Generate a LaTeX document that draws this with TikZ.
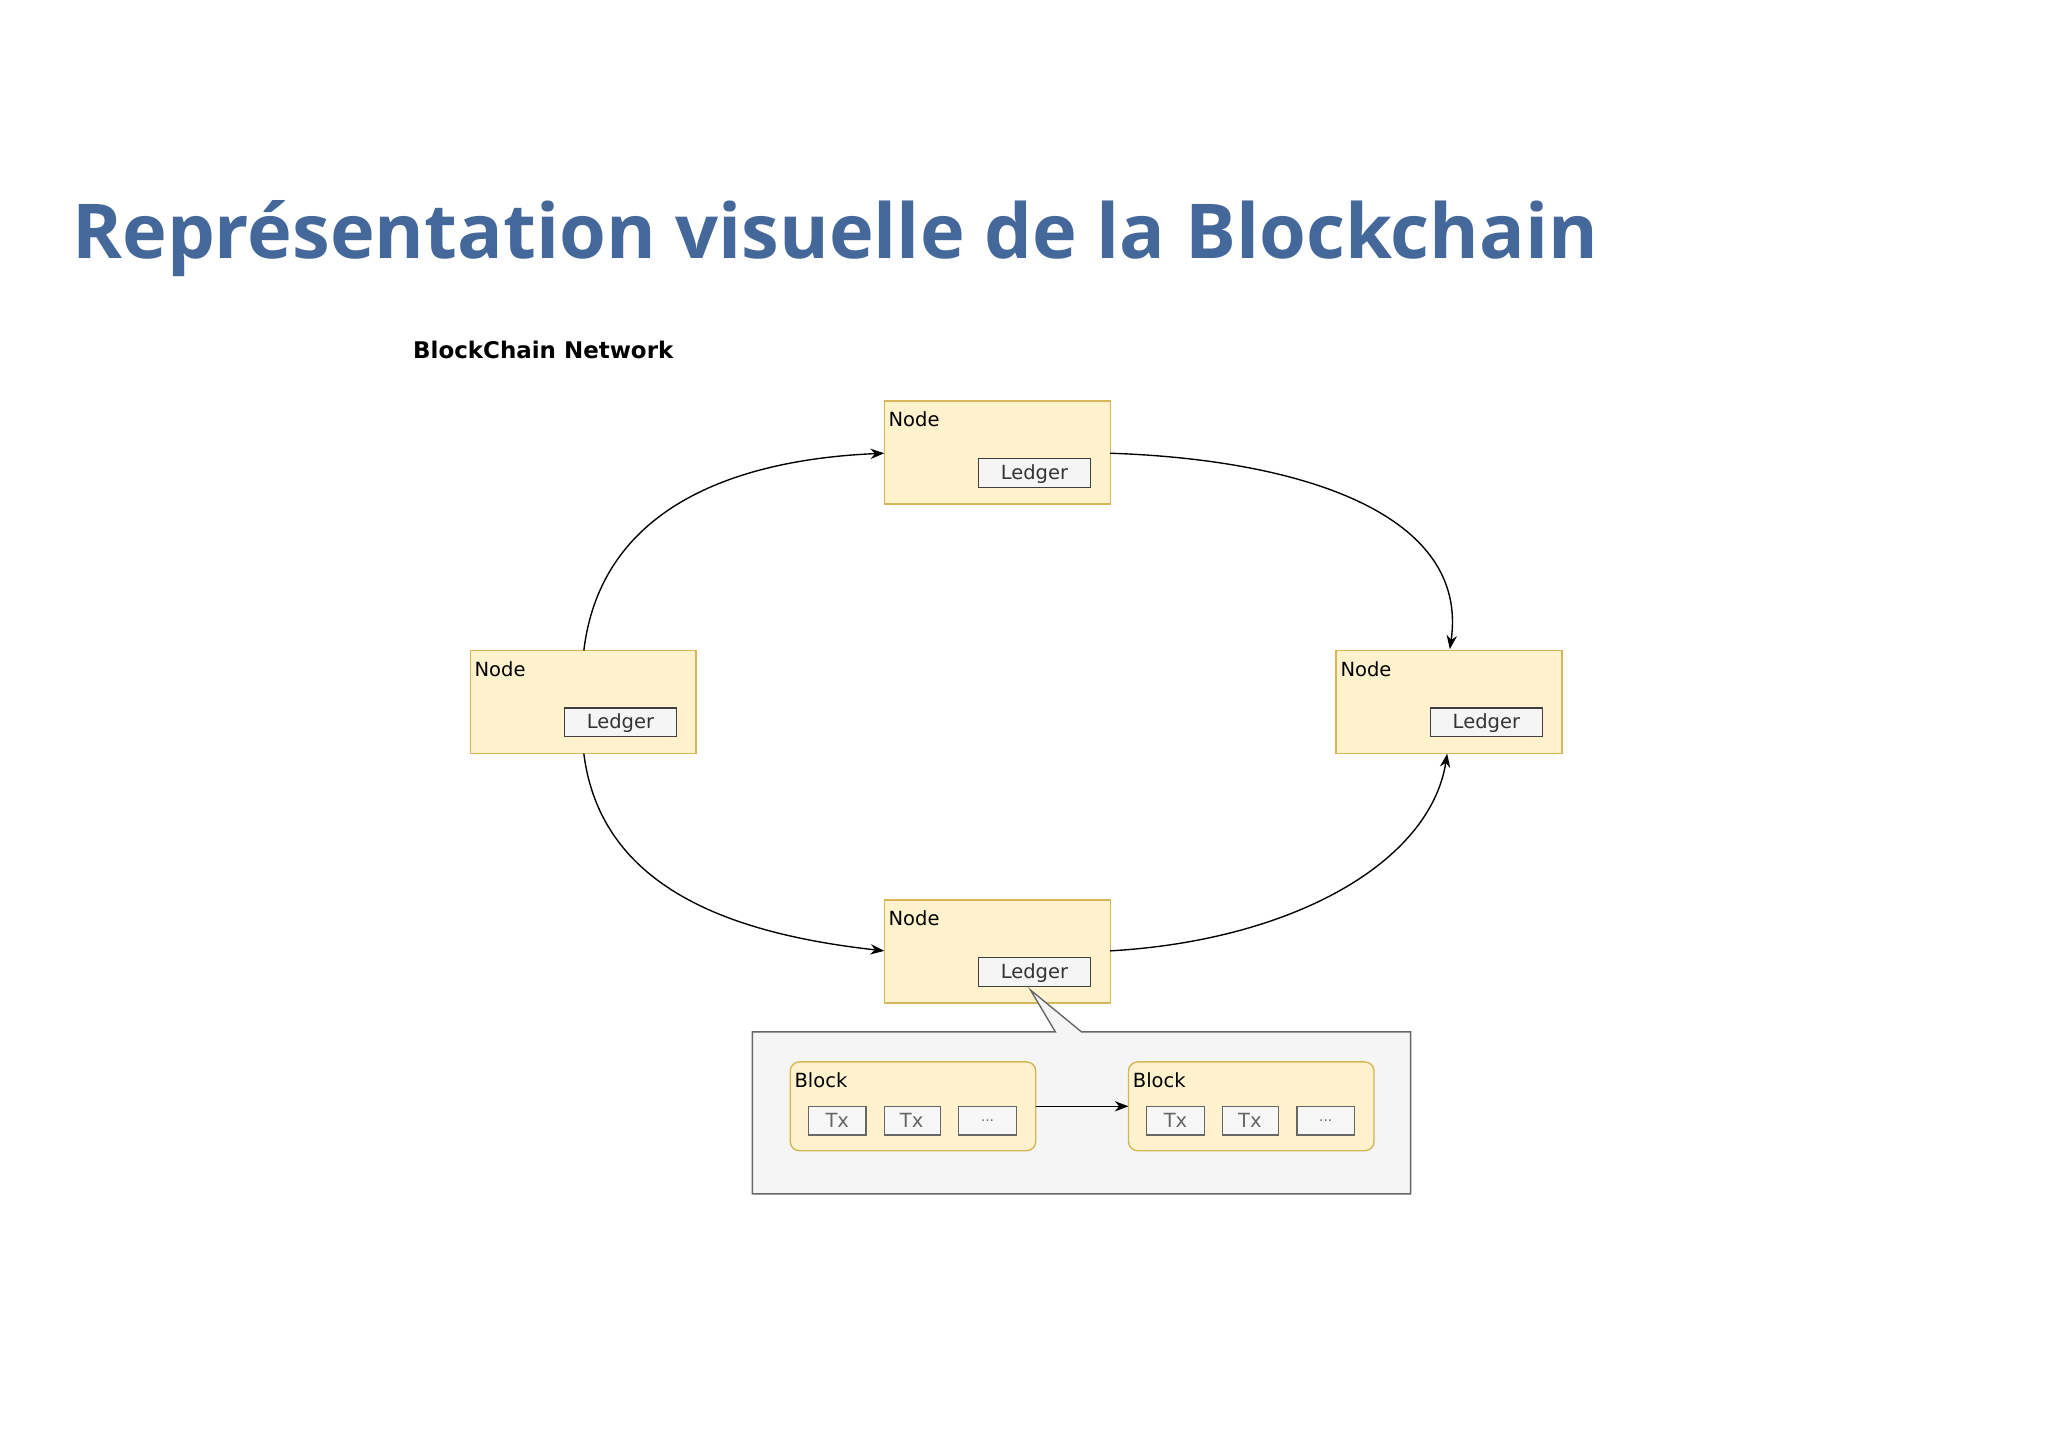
\documentclass[tikz,border=0pt]{standalone}
\usepackage{fontspec}
\setmainfont{DejaVu Sans}
\newfontfamily\titlefont{Open Sans}
\usetikzlibrary{arrows.meta}
\definecolor{ttl}{HTML}{44689A}
\definecolor{nfill}{HTML}{FFF2CC}
\definecolor{nline}{HTML}{D6B656}
\tikzset{
 x=0.02cm,y=-0.02cm,
 nodebox/.style={draw=nline,fill=nfill,line width=0.6pt},
 ledgerbox/.style={draw=black!75,fill=black!4,line width=0.5pt,font=\fontsize{8.5}{10}\selectfont,text=black!80},
 txbox/.style={draw=black!60,fill=black!3,line width=0.5pt,font=\fontsize{8.5}{10}\selectfont,text=black!60},
 lbl/.style={anchor=north west,inner sep=0pt,font=\fontsize{8.5}{10}\selectfont},
 arr/.style={-{Stealth[length=6pt,width=4.5pt]},line width=0.6pt}
}
\begin{document}
\begin{tikzpicture}
\useasboundingbox[fill=white] (0,0) rectangle (1568,1109);
\node[anchor=west,inner sep=0pt,text=ttl,font=\titlefont\bfseries\fontsize{33}{36}\selectfont] (title) at (55,183) {Représentation visuelle de la Blockchain};
\node[anchor=west,inner sep=0pt,font=\bfseries\fontsize{10}{12}\selectfont] (net) at (316,268) {BlockChain Network};
% nodes
\foreach \n/\x/\y in {top/677/307,left/360/498,right/1023/498,bot/677/689}{
 \draw[nodebox] (\x,\y) rectangle ++(173,79);
 \coordinate (\n nw) at (\x,\y);
 \node[lbl] (\n t) at (\x+3,\y+8) {Node};
 \draw[ledgerbox] (\x+72,\y+44) rectangle ++(86,22);
 \node[font=\fontsize{8.5}{10}\selectfont,text=black!80] (\n l) at (\x+115,\y+56) {Ledger};
}
% callout container
\draw[draw=black!60,fill=black!4,line width=0.6pt] (576,790) -- (808,790) -- (789,758) -- (828,790) -- (1080,790) -- (1080,914) -- (576,914) -- cycle;
\draw[ledgerbox] (749,733) rectangle ++(86,22);
\node[font=\fontsize{8.5}{10}\selectfont,text=black!80] at (792,745) {Ledger};
% blocks
\foreach \n/\x in {b1/605,b2/864}{
 \draw[nodebox,rounded corners=4pt] (\x,813) rectangle ++(188,68);
 \node[lbl] at (\x+3,821) {Block};
 \draw[txbox] (\x+14,847) rectangle ++(44,22);
 \node[font=\fontsize{8.5}{10}\selectfont,text=black!60] at (\x+36,858) {Tx};
 \draw[txbox] (\x+72,847) rectangle ++(43,22);
 \node[font=\fontsize{8.5}{10}\selectfont,text=black!60] at (\x+93,858) {Tx};
 \draw[txbox] (\x+129,847) rectangle ++(44,22);
 \node[font=\fontsize{6}{7}\selectfont,text=black!60] at (\x+151,858) {...};
}
\coordinate (b1e) at (793,847);
\coordinate (b2w) at (864,847);
\draw[arr] (b1e) -- (b2w);
% ring connectors
\coordinate (lt) at (447,498); \coordinate (tw) at (677,347);
\coordinate (te) at (850,347); \coordinate (rt) at (1110,497);
\coordinate (be) at (850,728); \coordinate (rb) at (1108,577);
\coordinate (lb) at (447,577); \coordinate (bw) at (677,728);
\draw[arr] (lt) .. controls (460,390) and (560,352) .. (tw);
\draw[arr] (te) .. controls (1000,352) and (1125,395) .. (rt);
\draw[arr] (be) .. controls (990,720) and (1095,660) .. (rb);
\draw[arr] (lb) .. controls (460,680) and (560,715) .. (bw);
\end{tikzpicture}
\end{document}
